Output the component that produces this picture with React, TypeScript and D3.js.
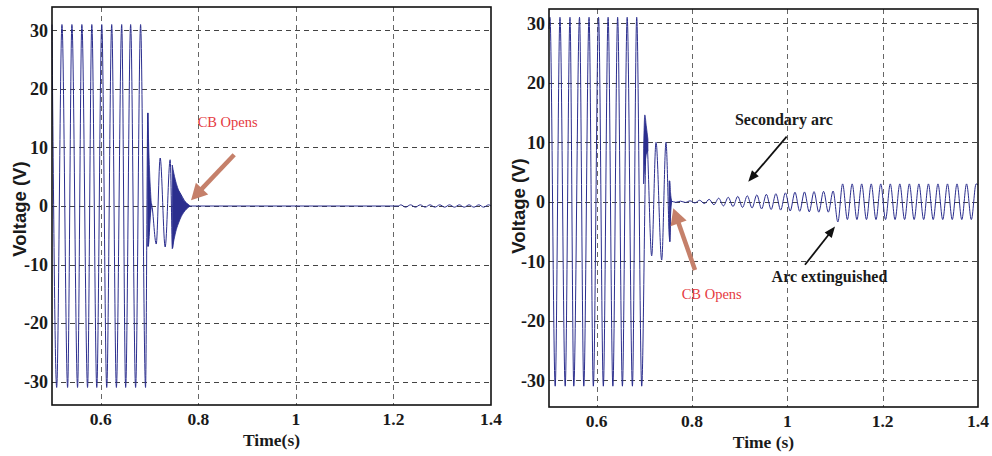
import * as d3 from "d3";

type Pt = [number, number];

const xTicks = [0.6, 0.8, 1, 1.2, 1.4];
const xTickLabels = ["0.6", "0.8", "1", "1.2", "1.4"];
const yTicks = [-30, -20, -10, 0, 10, 20, 30];

// left plot: extrema of the voltage trace [time (s), volts]
const leftWave: Pt[] = [
  [0.5, 31], [0.5096, -31], [0.5204, 31], [0.532, -31], [0.5408, 31], [0.5524, -31],
  [0.5612, 31], [0.5729, -31], [0.5816, 31], [0.5918, -31], [0.602, 31], [0.6122, -31],
  [0.6224, 31], [0.632, -31], [0.6429, 31], [0.651, -31], [0.6612, 31], [0.6714, -31],
  [0.6816, 31], [0.6918, -31], [0.6965, 15.9], [0.6972, -6.9], [0.7035, 0.4],
  [0.7137, -6.5], [0.7218, 8.2], [0.732, -7], [0.7422, 7.9], [0.7472, -7.2],
  [0.753, 3], [0.782, 0], [1.21, 0],
  [1.215, 0.2], [1.225, -0.2], [1.235, 0.2], [1.245, -0.2], [1.255, 0.2], [1.265, -0.2],
  [1.275, 0.2], [1.285, -0.2], [1.295, 0.2], [1.305, -0.2], [1.315, 0.2], [1.325, -0.2],
  [1.335, 0.2], [1.345, -0.2], [1.355, 0.2], [1.365, -0.2], [1.375, 0.2], [1.385, -0.2],
  [1.395, 0.2], [1.4, 0],
];
// dense high-frequency bursts, drawn as filled envelopes
const leftBurst1T = [0.6965, 0.698, 0.7, 0.702, 0.7035];
const leftBurst1Hi = [15.9, 11, 6, 2.5, 0.5];
const leftBurst1Lo = [-6.9, -5.5, -3, -1.2, -0.3];
const leftBurst2T = [0.7465, 0.75, 0.755, 0.76, 0.765, 0.77, 0.776, 0.782];
const leftBurst2Hi = [7, 5.5, 3.8, 2.6, 1.7, 1, 0.5, 0.1];
const leftBurst2Lo = [-7.3, -5.8, -4, -2.8, -1.8, -1.1, -0.5, -0.1];

// right plot
const rightWave: Pt[] = [
  [0.5, 29], [0.502, 31], [0.513, -31], [0.523, 31], [0.534, -31], [0.544, 31], [0.552, -31],
  [0.564, 31], [0.573, -31], [0.584, 31], [0.593, -31], [0.604, 31], [0.614, -31],
  [0.624, 31], [0.634, -31], [0.644, 31], [0.654, -31], [0.664, 31], [0.675, -31],
  [0.684, 31], [0.6945, -31], [0.7045, 11], [0.7154, -9.1], [0.7245, 10], [0.7364, -9.8],
  [0.7454, 10], [0.7535, -6.7], [0.756, 0.1],
  // secondary arc
  [0.766, -0.1], [0.776, 0.1], [0.786, -0.12], [0.796, 0.15], [0.806, -0.2], [0.816, 0.25],
  [0.826, -0.3], [0.836, 0.4], [0.846, -0.5], [0.856, 0.6], [0.866, -0.7], [0.876, 0.75],
  [0.886, -0.8], [0.896, 0.9], [0.906, -0.95], [0.916, 1], [0.926, -1.05], [0.936, 1.15],
  [0.946, -1.2], [0.956, 1.25], [0.966, -1.3], [0.976, 1.35], [0.986, -1.4], [0.996, 1.5],
  [1.006, -1.55], [1.016, 1.6], [1.026, -1.6], [1.036, 1.65], [1.046, -1.7], [1.056, 1.7],
  [1.066, -1.75], [1.076, 1.75], [1.086, -1.75], [1.096, 1.8],
  // arc extinguished
  [1.106, -3.4], [1.116, 3], [1.126, -3], [1.136, 3], [1.146, -3], [1.156, 3], [1.166, -3],
  [1.176, 3], [1.186, -3], [1.196, 3], [1.206, -3], [1.216, 3], [1.226, -3], [1.236, 3],
  [1.246, -3], [1.256, 3], [1.266, -3], [1.276, 3], [1.286, -3], [1.296, 3], [1.306, -3],
  [1.316, 3], [1.326, -3], [1.336, 3], [1.346, -3], [1.356, 3], [1.366, -3], [1.376, 3],
  [1.386, -3], [1.396, 3], [1.4, 2.8],
];
const rightBurst1T = [0.6985, 0.701, 0.704, 0.7075];
const rightBurst1Hi = [9, 14.6, 12.8, 10.5];
const rightBurst1Lo = [3, 6, 8, 8.5];
const rightBurst2T = [0.752, 0.7535, 0.755, 0.757];
const rightBurst2Hi = [3.5, 3.5, 1.5, 0.3];
const rightBurst2Lo = [-4, -6.7, -2, -0.3];

const waveColor = "#2b2e8e";
const noteBrown = "#c5806a";
const noteRed = "#e53a3f";
const serif = "'Liberation Serif', 'Times New Roman', serif";
const sans = "'Liberation Sans', Arial, sans-serif";

type Burst = { t: number[]; hi: number[]; lo: number[] };
type Note = {
  text: string;
  color: string;
  bold: boolean;
  at: Pt; // text start (data units)
  tail: Pt;
  tip: Pt;
  arrowColor: string;
  arrowWidth: number;
  head: [number, number];
};

function Arrow({ x1, y1, x2, y2, color, width, head }) {
  const ang = Math.atan2(y2 - y1, x2 - x1);
  const [hl, hw] = head;
  const bx = x2 - hl * Math.cos(ang);
  const by = y2 - hl * Math.sin(ang);
  const px = -Math.sin(ang) * hw / 2;
  const py = Math.cos(ang) * hw / 2;
  return (
    <g>
      <line x1={x1} y1={y1} x2={bx + hl * 0.2 * Math.cos(ang)} y2={by + hl * 0.2 * Math.sin(ang)} stroke={color} strokeWidth={width} />
      <polygon points={`${x2},${y2} ${bx + px},${by + py} ${bx - px},${by - py}`} fill={color} />
    </g>
  );
}

function Panel({ xRange, yDomain, yRange, wave, bursts, yTitleX, yTitleY, xTitle, notes }:
  { xRange: [number, number]; yDomain: [number, number]; yRange: [number, number]; wave: Pt[]; bursts: Burst[];
    yTitleX: number; yTitleY: number; xTitle: string; notes: Note[] }) {
  const x = d3.scaleLinear().domain([0.5, 1.4]).range(xRange);
  const y = d3.scaleLinear().domain(yDomain).range(yRange);
  const line = d3.line<Pt>().x(d => x(d[0])).y(d => y(d[1])).curve(d3.curveMonotoneX);
  const area = d3.area<number>().curve(d3.curveMonotoneX);
  const [left, right] = xRange;
  const [bottom, top] = yRange;

  return (
    <g>
      {/* grid */}
      <g stroke="#444" strokeWidth={1} strokeDasharray="5,4" fill="none">
        {yTicks.map(v => (
          <line key={"h" + v} x1={left} x2={right} y1={Math.round(y(v)) + 0.5} y2={Math.round(y(v)) + 0.5} />
        ))}
        {xTicks.slice(0, -1).map(t => (
          <line key={"v" + t} x1={Math.round(x(t)) + 0.5} x2={Math.round(x(t)) + 0.5} y1={top} y2={bottom} stroke="#666" />
        ))}
      </g>
      {/* trace */}
      <path d={line(wave) ?? ""} fill="none" stroke={waveColor} strokeWidth={1} />
      {bursts.map((b, k) => {
        const idx = d3.range(b.t.length);
        const a = area.x(i => x(b.t[i])).y0(i => y(b.lo[i])).y1(i => y(b.hi[i]));
        return <path key={k} d={a(idx) ?? ""} fill={waveColor} stroke={waveColor} strokeWidth={0.8} />;
      })}
      {/* frame */}
      <rect x={left} y={top} width={right - left} height={bottom - top} fill="none" stroke="#111" strokeWidth={1.6} />
      {/* tick labels */}
      <g fontFamily={serif} fontWeight="bold" fontSize={17.5} fill="#1a1a1a">
        {yTicks.map(v => (
          <text key={"yl" + v} x={left - 4} y={y(v)} dy="0.35em" textAnchor="end" fontSize={18}>{v}</text>
        ))}
        {xTicks.map((t, i) => (
          <text key={"xl" + t} x={x(t)} y={bottom + 20} textAnchor="middle">{xTickLabels[i]}</text>
        ))}
        <text x={(left + right) / 2} y={bottom + 41} textAnchor="middle" fontSize={17.5}>{xTitle}</text>
      </g>
      <text
        transform={`translate(${yTitleX},${yTitleY}) rotate(-90)`}
        textAnchor="middle"
        dy="0.35em"
        fontFamily={sans}
        fontWeight="bold"
        fontSize={18.5}
        fill="#1a1a1a"
      >
        Voltage (V)
      </text>
      {notes.map((n, k) => (
        <g key={k}>
          <Arrow
            x1={x(n.tail[0])} y1={y(n.tail[1])}
            x2={x(n.tip[0])} y2={y(n.tip[1])}
            color={n.arrowColor} width={n.arrowWidth} head={n.head}
          />
          <text
            x={x(n.at[0])} y={y(n.at[1])}
            fontFamily={serif}
            fontWeight={n.bold ? "bold" : "normal"}
            fontSize={n.bold ? 16 : 14.5}
            fill={n.color}
          >
            {n.text}
          </text>
        </g>
      ))}
    </g>
  );
}

export default function App() {
  const leftNotes: Note[] = [
    { text: "CB Opens", color: noteRed, bold: false, at: [0.7986, 13.55], tail: [0.8735, 8.75], tip: [0.785, 1.0],
      arrowColor: noteBrown, arrowWidth: 4.5, head: [16, 17] },
  ];
  const rightNotes: Note[] = [
    { text: "CB Opens", color: noteRed, bold: false, at: [0.7784, -16.3], tail: [0.8063, -11.46], tip: [0.7608, -1.09],
      arrowColor: noteBrown, arrowWidth: 4.5, head: [16, 17] },
    { text: "Secondary arc", color: "#1a1a1a", bold: true, at: [0.89, 12.9], tail: [0.9986, 10.94], tip: [0.918, 3.38],
      arrowColor: "#111", arrowWidth: 1.8, head: [11, 9] },
    { text: "Arc extinguished", color: "#1a1a1a", bold: true, at: [0.967, -13.45], tail: [1.037, -10.6], tip: [1.1, -4.18],
      arrowColor: "#111", arrowWidth: 1.8, head: [11, 9] },
  ];

  return (
    <svg width={992} height={456} style={{ position: "absolute", left: 0, top: 0, background: "#fff" }}>
      <rect width={992} height={456} fill="#fff" />
      <Panel
        xRange={[52, 491]}
        yDomain={[-34, 34]}
        yRange={[405, 7]}
        wave={leftWave}
        bursts={[
          { t: leftBurst1T, hi: leftBurst1Hi, lo: leftBurst1Lo },
          { t: leftBurst2T, hi: leftBurst2Hi, lo: leftBurst2Lo },
        ]}
        yTitleX={20}
        yTitleY={209}
        xTitle="Time(s)"
        notes={leftNotes}
      />
      <Panel
        xRange={[549, 978]}
        yDomain={[-34.5, 32.4]}
        yRange={[407, 9]}
        wave={rightWave}
        bursts={[
          { t: rightBurst1T, hi: rightBurst1Hi, lo: rightBurst1Lo },
          { t: rightBurst2T, hi: rightBurst2Hi, lo: rightBurst2Lo },
        ]}
        yTitleX={519}
        yTitleY={206}
        xTitle="Time (s)"
        notes={rightNotes}
      />
    </svg>
  );
}
